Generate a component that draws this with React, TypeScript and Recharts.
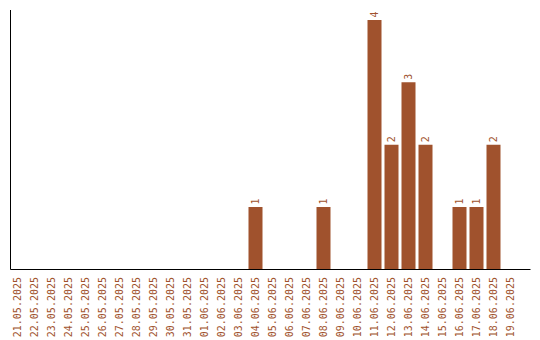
import React from "react";
import { BarChart, Bar, XAxis, YAxis, LabelList } from "recharts";

const dates = [
  "21.05.2025", "22.05.2025", "23.05.2025", "24.05.2025", "25.05.2025",
  "26.05.2025", "27.05.2025", "28.05.2025", "29.05.2025", "30.05.2025",
  "31.05.2025", "01.06.2025", "02.06.2025", "03.06.2025", "04.06.2025",
  "05.06.2025", "06.06.2025", "07.06.2025", "08.06.2025", "09.06.2025",
  "10.06.2025", "11.06.2025", "12.06.2025", "13.06.2025", "14.06.2025",
  "15.06.2025", "16.06.2025", "17.06.2025", "18.06.2025", "19.06.2025",
];
const counts = [
  0, 0, 0, 0, 0,
  0, 0, 0, 0, 0,
  0, 0, 0, 0, 1,
  0, 0, 0, 1, 0,
  0, 4, 2, 3, 2,
  0, 1, 1, 2, 0,
];

const data = dates.map((d, i) => ({ date: d, count: counts[i] }));

const BROWN = "#A0522D";
const FONT = "'DejaVu Sans Mono', monospace";

const XTick = (props: any) => {
  const { x, payload } = props;
  const ty = 277;
  return (
    <text
      x={x}
      y={ty}
      dy="0.35em"
      transform={`rotate(-90, ${x}, ${ty})`}
      textAnchor="end"
      fill={BROWN}
      fontFamily={FONT}
      fontSize={10}
    >
      {payload.value}
    </text>
  );
};

const BarLabel = (props: any) => {
  const { x, y, width, value } = props;
  if (!value) return null;
  const cx = Number(x) + Number(width) / 2;
  const ty = Number(y) - 2.5;
  return (
    <text
      x={cx}
      y={ty}
      dy="0.35em"
      transform={`rotate(-90, ${cx}, ${ty})`}
      textAnchor="start"
      fill={BROWN}
      fontFamily={FONT}
      fontSize={10}
    >
      {value}
    </text>
  );
};

export default function App() {
  return (
    <div style={{ position: "absolute", left: 0, top: 0, width: 540, height: 340, background: "#fff" }}>
      <BarChart
        width={540}
        height={340}
        data={data}
        margin={{ top: 10, right: 9.5, left: 9.5, bottom: 0 }}
      >
        <XAxis
          dataKey="date"
          interval={0}
          height={70.5}
          padding={{ left: -2, right: 12 }}
          axisLine={{ stroke: "#000", strokeWidth: 1, strokeOpacity: 1 }}
          tickLine={false}
          tick={<XTick />}
        />
        <YAxis
          width={1}
          domain={[0, 4.16]}
          allowDataOverflow
          tick={false}
          tickLine={false}
          axisLine={{ stroke: "#000", strokeWidth: 1, strokeOpacity: 1 }}
        />
        <Bar dataKey="count" fill={BROWN} barSize={14} isAnimationActive={false}>
          <LabelList dataKey="count" content={<BarLabel />} />
        </Bar>
      </BarChart>
    </div>
  );
}
